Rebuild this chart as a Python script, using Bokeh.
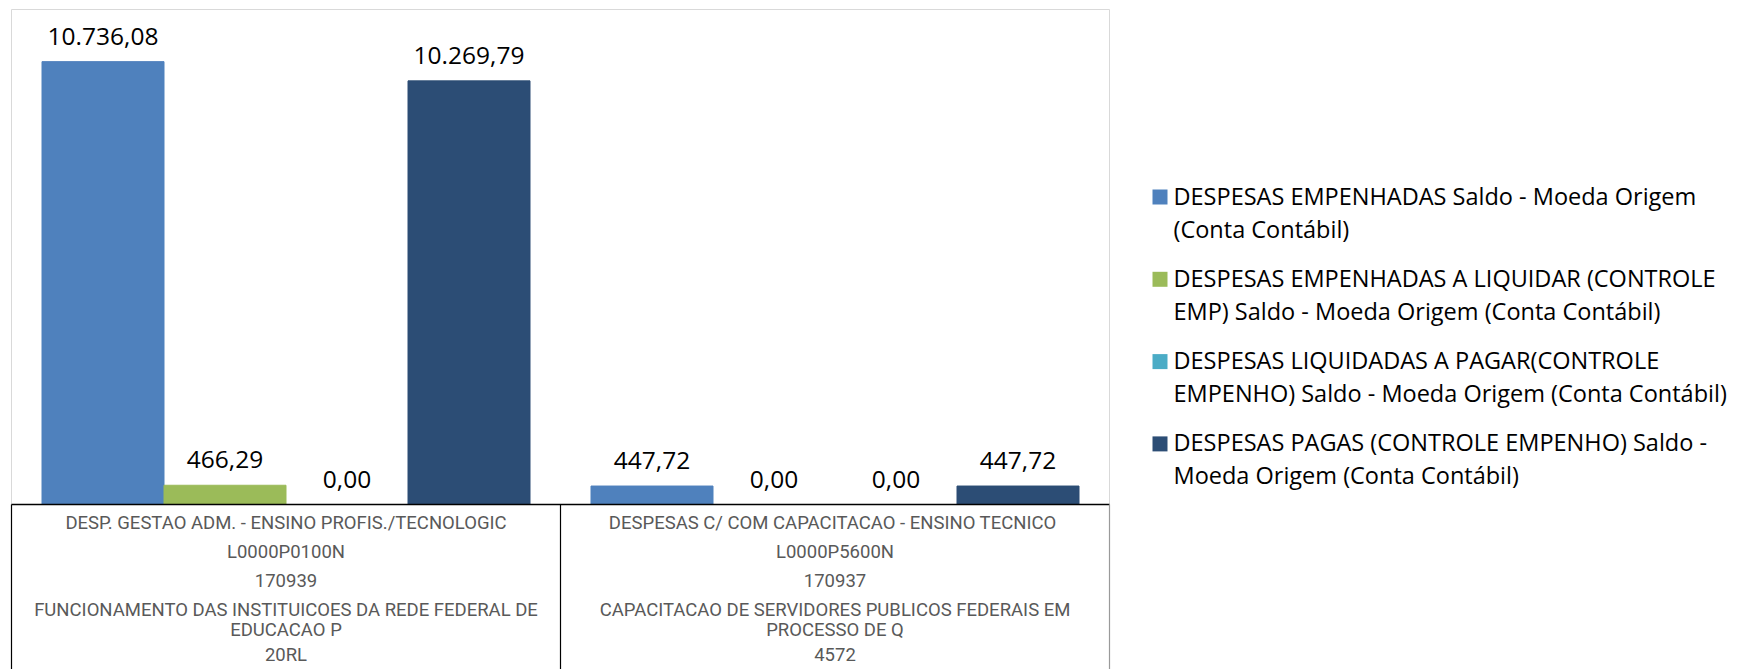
from bokeh.plotting import figure
from bokeh.models import Range1d
from bokeh.embed import file_html
from bokeh.resources import INLINE
from bokeh.core.properties import value

# ---------------- data ----------------
categories = [
    "DESP. GESTAO ADM. - ENSINO PROFIS./TECNOLOGIC",
    "DESPESAS C/ COM  CAPACITACAO - ENSINO TECNICO",
]
ptres = ["L0000P0100N", "L0000P5600N"]
ug_codes = ["170939", "170937"]
acao_names = [
    "FUNCIONAMENTO DAS INSTITUICOES DA REDE FEDERAL DE\nEDUCACAO P",
    "CAPACITACAO DE SERVIDORES PUBLICOS FEDERAIS EM\nPROCESSO DE Q",
]
acao_codes = ["20RL", "4572"]

series_names = [
    "DESPESAS EMPENHADAS Saldo - Moeda Origem\n(Conta Contábil)",
    "DESPESAS EMPENHADAS A LIQUIDAR (CONTROLE\nEMP) Saldo - Moeda Origem (Conta Contábil)",
    "DESPESAS LIQUIDADAS A PAGAR(CONTROLE\nEMPENHO) Saldo - Moeda Origem (Conta Contábil)",
    "DESPESAS PAGAS (CONTROLE EMPENHO) Saldo -\nMoeda Origem (Conta Contábil)",
]
empenhadas = [10736.08, 447.72]
a_liquidar = [466.29, 0.00]
liquidadas_a_pagar = [0.00, 0.00]
pagas = [10269.79, 447.72]
series_values = [empenhadas, a_liquidar, liquidadas_a_pagar, pagas]
colors = ["#4F81BD", "#9BBB59", "#4BACC6", "#2C4D75"]
y_max = 12000

# ---------------- layout (pixels) ----------------
W, H = 1737, 669
PX_PER_CAT = 549
FRAME_LEFT = 11
FRAME_TOP = 9
BASE = 504
BAR_PX = 122

x_start = -0.5 - FRAME_LEFT / PX_PER_CAT
x_end = x_start + W / PX_PER_CAT
upp = y_max / (BASE - FRAME_TOP)          # data units per pixel (y)
y_end = y_max + FRAME_TOP * upp
y_start = y_end - H * upp


def xpx(px):
    return x_start + px / PX_PER_CAT


def ypx(py):
    return y_end - py * upp


def fmt_br(v):
    s = f"{v:,.2f}"
    return s.replace(",", "#").replace(".", ",").replace("#", ".")


p = figure(width=W, height=H, output_backend="svg", toolbar_location=None,
           x_range=Range1d(x_start, x_end), y_range=Range1d(y_start, y_end),
           x_axis_type=None, y_axis_type=None, min_border=0)
p.grid.visible = False
p.outline_line_color = None
p.background_fill_color = "white"
p.border_fill_color = "white"

n_cat = len(categories)
n_ser = len(series_values)
bar_w = BAR_PX / PX_PER_CAT
bounds = [k - 0.5 for k in range(n_cat + 1)]

# plot-area frame (light gray)
p.segment(x0=[bounds[0], bounds[0], bounds[-1]], y0=[y_max, 0, 0],
          x1=[bounds[-1], bounds[0], bounds[-1]], y1=[y_max, y_max, y_max],
          line_color="#D9D9D9", line_width=1)

# bars + data labels
for i, (vals, color) in enumerate(zip(series_values, colors)):
    off = (i - (n_ser - 1) / 2) * bar_w
    xs = [k + off for k in range(n_cat)]
    p.vbar(x=xs, top=vals, bottom=0, width=bar_w, fill_color=color, line_color=color)
    p.text(x=xs, y=[v + 25.5 * upp for v in vals], text=[fmt_br(v) for v in vals],
           text_align="center", text_baseline="middle",
           text_font=value("Open Sans"), text_font_size="24.5px", text_color="#000000")

# category label box
p.segment(x0=[bounds[0]], y0=[0], x1=[bounds[-1]], y1=[0], line_color="#000000", line_width=1.5)
p.segment(x0=bounds[:-1], y0=[0] * n_cat, x1=bounds[:-1], y1=[y_start] * n_cat,
          line_color="#000000", line_width=1.2)
p.segment(x0=[bounds[-1]], y0=[0], x1=[bounds[-1]], y1=[y_start],
          line_color="#9A9A9A", line_width=1.2)

# category labels (rows)
cat_x = list(range(n_cat))
LBL_FONT = "18.5px"
row_specs = [(categories, 18), (ptres, 47), (ug_codes, 76), (acao_codes, 150)]
for labels, off in row_specs:
    p.text(x=cat_x, y=[-off * upp] * n_cat, text=labels, text_align="center",
           text_baseline="middle", text_font=value("Roboto"), text_font_size=LBL_FONT,
           text_color="#595959")
for li in range(2):
    p.text(x=cat_x, y=[-(105 + 20 * li) * upp] * n_cat,
           text=[a.split("\n")[li] for a in acao_names], text_align="center",
           text_baseline="middle", text_font=value("Roboto"), text_font_size=LBL_FONT,
           text_color="#595959")

# legend (manual)
LEG_X, LEG_Y0, LEG_STEP, LINE_STEP = 1152, 195, 82.3, 33
for i, (name, color) in enumerate(zip(series_names, colors)):
    cy = LEG_Y0 + i * LEG_STEP
    p.rect(x=[xpx(LEG_X + 7.5)], y=[ypx(cy + 1.5)], width=15, height=15,
           width_units="screen", height_units="screen", fill_color=color, line_color=None)
    lines = name.split("\n")
    p.text(x=[xpx(LEG_X + 21)] * len(lines), y=[ypx(cy + j * LINE_STEP) for j in range(len(lines))],
           text=lines, text_align="left", text_baseline="middle",
           text_font=value("Open Sans"), text_font_size="23.5px", text_color="#000000")

open("out.html", "w").write(file_html(p, INLINE))
